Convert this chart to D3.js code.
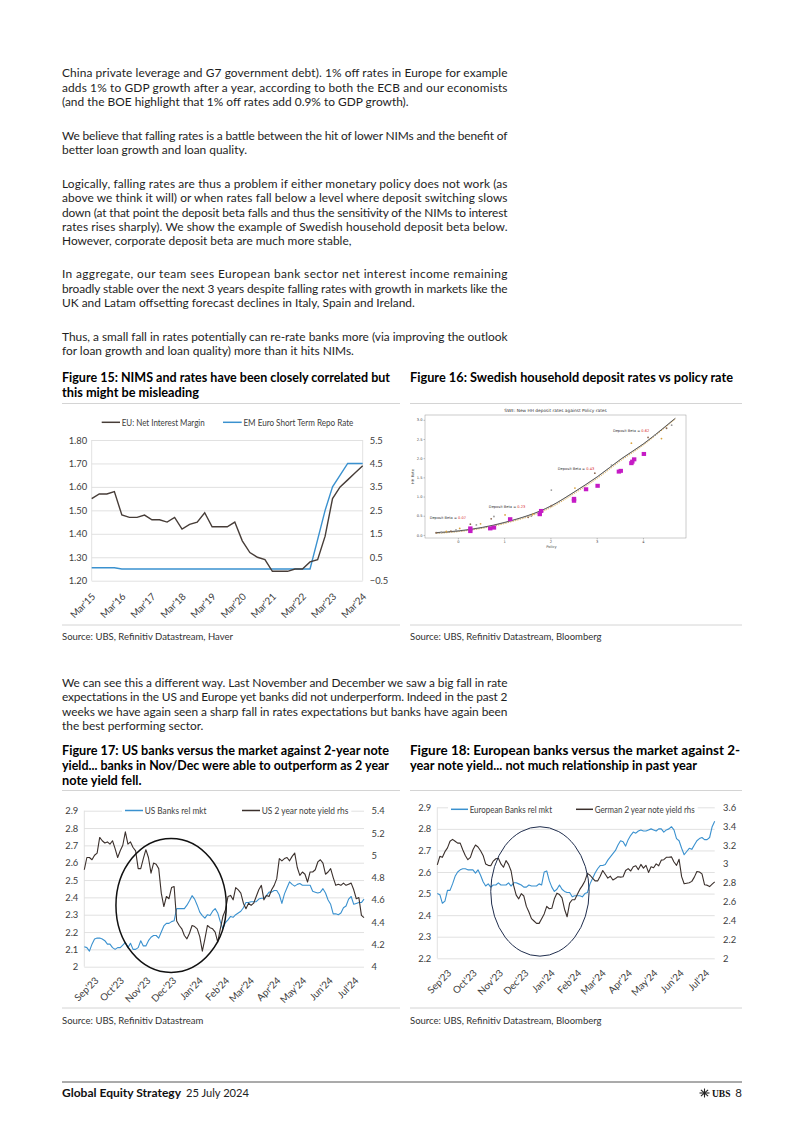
<!DOCTYPE html>
<html>
<head>
<meta charset="utf-8">
<script src="https://cdn.jsdelivr.net/npm/d3@7"></script>
<style>
html,body{margin:0;padding:0;background:#fff;}
svg{display:block;}
</style>
</head>
<body>
<svg id="page" width="802" height="1134"></svg>
<script>
// ================= TEXT =================
const para1 = ["China private leverage and G7 government debt). 1% off rates in Europe for example",
  "adds 1% to GDP growth after a year, according to both the ECB and our economists",
  "(and the BOE highlight that 1% off rates add 0.9% to GDP growth)."];
const para2 = ["We believe that falling rates is a battle between the hit of lower NIMs and the benefit of",
  "better loan growth and loan quality."];
const para3 = ["Logically, falling rates are thus a problem if either monetary policy does not work (as",
  "above we think it will) or when rates fall below a level where deposit switching slows",
  "down (at that point the deposit beta falls and thus the sensitivity of the NIMs to interest",
  "rates rises sharply). We show the example of Swedish household deposit beta below.",
  "However, corporate deposit beta are much more stable,"];
const para4 = ["In aggregate, our team sees European bank sector net interest income remaining",
  "broadly stable over the next 3 years despite falling rates with growth in markets like the",
  "UK and Latam offsetting forecast declines in Italy, Spain and Ireland."];
const para5 = ["Thus, a small fall in rates potentially can re-rate banks more (via improving the outlook",
  "for loan growth and loan quality) more than it hits NIMs."];
const para6 = ["We can see this a different way. Last November and December we saw a big fall in rate",
  "expectations in the US and Europe yet banks did not underperform. Indeed in the past 2",
  "weeks we have again seen a sharp fall in rates expectations but banks have again been",
  "the best performing sector."];
const title15 = ["Figure 15: NIMS and rates have been closely correlated but", "this might be misleading"];
const title16 = ["Figure 16: Swedish household deposit rates vs policy rate"];
const title17 = ["Figure 17: US banks versus the market against 2-year note",
  "yield... banks in Nov/Dec were able to outperform as 2 year", "note yield fell."];
const title18 = ["Figure 18: European banks versus the market against 2-",
  "year note yield... not much relationship in past year"];
const source15 = "Source: UBS, Refinitiv Datastream, Haver";
const source16 = "Source: UBS, Refinitiv Datastream, Bloomberg";
const source17 = "Source: UBS, Refinitiv Datastream";
const source18 = "Source: UBS, Refinitiv Datastream, Bloomberg";

// ================= FIGURE 15 =================
const nimQuarters = ["Mar'15","Jun'15","Sep'15","Dec'15","Mar'16","Jun'16","Sep'16","Dec'16",
  "Mar'17","Jun'17","Sep'17","Dec'17","Mar'18","Jun'18","Sep'18","Dec'18",
  "Mar'19","Jun'19","Sep'19","Dec'19","Mar'20","Jun'20","Sep'20","Dec'20",
  "Mar'21","Jun'21","Sep'21","Dec'21","Mar'22","Jun'22","Sep'22","Dec'22",
  "Mar'23","Jun'23","Sep'23","Dec'23","Mar'24"];
const nimValues = [1.55,1.57,1.57,1.58,1.48,1.47,1.47,1.48,1.46,1.46,1.45,1.47,1.42,1.44,1.45,1.49,
  1.43,1.43,1.43,1.45,1.37,1.32,1.30,1.29,1.24,1.24,1.24,1.25,1.25,1.28,1.29,1.39,
  1.55,1.60,1.63,1.66,1.69];
const repoValues = [0.05,0.05,0.05,0.05,0,0,0,0,0,0,0,0,0,0,0,0,
  0,0,0,0,0,0,0,0,0,0,0,0,0,0,1.25,2.5,
  3.5,4.0,4.5,4.5,4.5];
const nimTicks = [1.2,1.3,1.4,1.5,1.6,1.7,1.8];
const repoTicks = [-0.5,0.5,1.5,2.5,3.5,4.5,5.5];
const legend15 = ["EU: Net Interest Margin", "EM Euro Short Term Repo Rate"];

// ================= FIGURE 16 =================
const purplePolicy = [0.27,0.27,0.70,0.78,1.13,1.77,1.80,2.51,2.51,2.77,3.02,3.48,3.52,3.75,3.77,3.81,4.02];
const purpleRate   = [0.10,0.17,0.17,0.19,0.41,0.54,0.625,0.89,0.94,1.19,1.28,1.65,1.67,1.87,1.91,1.97,2.11];
const dotPolicy = [-0.47,-0.36,-0.25,-0.15,-0.04,0.04,0.27,0.40,0.49,0.72,0.78,1.02,1.52,1.59,1.62,2.02,2.02,2.53,2.96,3.32,3.75,4.11,4.26,4.40,4.51,4.62];
const dotRate   = [0.06,0.07,0.09,0.10,0.13,0.17,0.28,0.26,0.29,0.42,0.48,0.52,0.46,0.49,0.54,0.76,1.17,1.22,1.61,1.82,2.39,2.54,2.60,2.51,2.78,2.86];
const fitPolicy = [-0.47,0.04,1.02,2.02,2.53,3.02,3.54,4.02,4.48,4.70];
const fitRate   = [0.06,0.11,0.33,0.76,1.13,1.52,1.99,2.38,2.82,3.04];
const fitRate2  = [0.04,0.09,0.30,0.72,1.09,1.48,1.95,2.35,2.80,3.02];
const betaValues = ["0.07","0.23","0.43","0.62"];
const betaPolicy = [-0.61,0.67,2.16,3.35];
const betaRate   = [0.42,0.70,1.69,2.68];
const swePolicyTicks = [0,1,2,3,4];
const sweRateTicks = [0,0.5,1,1.5,2,2.5,3];
const sweTitle = "SWE: New HH deposit rates against Policy rates";

// ================= FIGURE 17 / 18 (sampled every 3 days from 1 Sep 2023) =================
const seriesStart = "2023-09-01";
const usBanks = [2.115,2.11,2.09,2.13,2.16,2.165,2.165,2.16,2.15,2.13,
 2.13,2.11,2.10,2.11,2.11,2.125,2.14,2.11,2.135,2.10,
 2.10,2.11,2.15,2.12,2.12,2.15,2.17,2.18,2.18,2.165,
 2.20,2.235,2.25,2.25,2.26,2.265,2.335,2.335,2.335,2.335,
 2.355,2.38,2.41,2.39,2.355,2.315,2.295,2.28,2.30,2.295,
 2.32,2.335,2.31,2.26,2.22,2.255,2.27,2.29,2.285,2.30,
 2.31,2.32,2.34,2.37,2.37,2.375,2.375,2.375,2.39,2.395,
 2.395,2.41,2.43,2.43,2.44,2.44,2.415,2.365,2.42,2.455,
 2.49,2.475,2.465,2.475,2.48,2.47,2.47,2.47,2.47,2.435,
 2.43,2.425,2.43,2.45,2.425,2.385,2.36,2.305,2.305,2.30,
 2.31,2.34,2.35,2.39,2.405,2.36,2.365,2.37,2.37,2.39];
const usYield = [4.87,4.98,4.98,4.96,5.00,5.02,5.16,5.13,5.11,5.12,
 5.10,5.13,5.06,4.98,5.04,5.09,5.21,5.10,5.12,5.07,
 5.04,4.88,4.88,4.97,5.05,4.98,4.84,4.93,4.92,4.88,
 4.66,4.54,4.63,4.61,4.71,4.72,4.41,4.37,4.34,4.28,
 4.25,4.30,4.37,4.36,4.34,4.27,4.14,4.25,4.37,4.35,
 4.34,4.31,4.22,4.34,4.45,4.51,4.63,4.64,4.60,4.71,
 4.69,4.66,4.57,4.52,4.57,4.55,4.57,4.63,4.69,4.73,
 4.60,4.64,4.63,4.69,4.73,4.79,4.97,4.95,4.97,4.98,
 4.95,4.99,5.02,4.89,4.82,4.85,4.83,4.76,4.85,4.85,
 4.87,4.94,4.96,4.93,4.83,4.85,4.88,4.80,4.73,4.74,
 4.73,4.75,4.73,4.74,4.75,4.69,4.61,4.62,4.46,4.44];
const euBanks = [2.50,2.495,2.455,2.465,2.515,2.515,2.545,2.58,2.60,2.61,
 2.615,2.615,2.61,2.61,2.61,2.595,2.61,2.585,2.555,2.535,
 2.545,2.53,2.54,2.54,2.55,2.54,2.54,2.54,2.55,2.535,
 2.55,2.55,2.545,2.54,2.53,2.53,2.54,2.535,2.535,2.535,
 2.545,2.54,2.60,2.605,2.56,2.53,2.51,2.52,2.54,2.52,
 2.51,2.505,2.505,2.485,2.49,2.49,2.49,2.485,2.50,2.505,
 2.545,2.57,2.595,2.615,2.63,2.63,2.635,2.655,2.67,2.685,
 2.70,2.725,2.745,2.74,2.72,2.75,2.77,2.785,2.78,2.79,
 2.795,2.79,2.79,2.795,2.80,2.795,2.79,2.80,2.80,2.785,
 2.795,2.80,2.81,2.795,2.755,2.745,2.71,2.68,2.695,2.71,
 2.705,2.725,2.745,2.755,2.76,2.75,2.75,2.76,2.81,2.835];
const deYield = [2.99,3.08,3.07,3.13,3.17,3.24,3.26,3.24,3.22,3.22,
 3.15,3.09,3.045,3.07,3.15,3.20,3.18,3.14,3.09,3.00,
 2.985,2.98,3.03,3.055,3.06,3.00,2.965,3.035,2.995,2.925,
 2.77,2.67,2.63,2.685,2.66,2.55,2.49,2.42,2.395,2.37,
 2.37,2.42,2.47,2.55,2.525,2.53,2.63,2.69,2.675,2.64,
 2.52,2.44,2.585,2.62,2.62,2.675,2.73,2.77,2.82,2.90,
 2.88,2.85,2.82,2.82,2.87,2.93,2.89,2.85,2.87,2.83,
 2.845,2.865,2.86,2.865,2.93,2.95,2.925,2.97,2.98,2.94,
 2.995,2.955,2.985,2.91,2.97,2.96,3.00,2.98,3.04,3.045,
 3.07,3.07,3.075,3.02,2.985,3.05,2.865,2.79,2.795,2.80,
 2.815,2.86,2.92,2.915,2.895,2.78,2.775,2.76,2.785,2.81];
const usBanksTicks = [2.0,2.1,2.2,2.3,2.4,2.5,2.6,2.7,2.8,2.9];
const usYieldTicks = [4.0,4.2,4.4,4.6,4.8,5.0,5.2,5.4];
const euBanksTicks = [2.2,2.3,2.4,2.5,2.6,2.7,2.8,2.9];
const deYieldTicks = [2.0,2.2,2.4,2.6,2.8,3.0,3.2,3.4,3.6];
const legend17 = ["US Banks rel mkt", "US 2 year note yield rhs"];
const legend18 = ["European Banks rel mkt", "German 2 year note yield rhs"];
// circled periods: [start date, end date, top value, bottom value] (left axis units)
const circle17 = ["2023-10-08", "2024-02-14", 2.74, 1.967];
const circle18 = ["2023-11-03", "2024-02-27", 2.81, 2.21];

// ================= RENDER =================
const svg = d3.select("#page");
const FONT = "Lato, 'Open Sans', 'DejaVu Sans', sans-serif";
const BLUE = "#3a91cf", DARK = "#3b302c", GRID = "#d9d9d9", AX = "#404040";

function natural(text, size, weight) {
  const t = svg.append("text").attr("font-family", FONT).attr("font-size", size)
    .attr("font-weight", weight || 400).text(text);
  const w = t.node().getComputedTextLength(); t.remove(); return w;
}
function putText(parent, text, x, y, o) {
  o = o || {};
  const t = parent.append("text").attr("x", x).attr("y", y)
    .attr("font-family", FONT).attr("font-size", o.size || 11)
    .attr("font-weight", o.weight || 400).attr("fill", o.fill || "#1a1a1a").text(text);
  if (o.anchor) t.attr("text-anchor", o.anchor);
  if (o.width) t.attr("textLength", o.width).attr("lengthAdjust", o.adjust || "spacing");
  return t;
}

// ---- body text ----
const bodySize = 12 * 347 / natural(para1[2], 12, 400);
function paragraph(lines, y0) {
  lines.forEach((l, i) => putText(svg, l, 62, y0 + i * 14.4,
    {size: bodySize, width: i < lines.length - 1 ? 445.5 : null, fill: "#1e1e1e"}));
}
paragraph(para1, 77.3);
paragraph(para2, 140);
paragraph(para3, 187.7);
paragraph(para4, 278.3);
paragraph(para5, 340.7);
paragraph(para6, 686.7);

// ---- titles ----
const titleSize = 12.3;
const titleK = 323 / natural(title16[0], titleSize, 700);
function title(lines, x, y0, justW) {
  lines.forEach((l, i) => {
    const w = (justW && i < lines.length - 1) ? justW : natural(l, titleSize, 700) * titleK;
    putText(svg, l, x, y0 + i * 15, {size: titleSize, weight: 700, width: w, adjust: "spacingAndGlyphs", fill: "#000"});
  });
}
title(title15, 62, 381.5, 328);
title(title16, 410, 381.5, null);
title(title17, 62, 754.5, 327);
title(title18, 410, 754.5, 330);

// ---- rules and sources ----
function rule(x1, x2, y, c, w) {
  svg.append("line").attr("x1", x1).attr("x2", x2).attr("y1", y).attr("y2", y)
    .attr("stroke", c || "#d4d4d4").attr("stroke-width", w || 1);
}
rule(62, 400, 403.5); rule(410, 742, 403.5);
rule(62, 400, 625); rule(410, 742, 625);
rule(62, 400, 790.5); rule(410, 742, 790.5);
rule(62, 400, 1008); rule(410, 742, 1008);
const srcSize = 8.6;
const srcK = 171 / natural(source15, srcSize, 400);
[[source15, 62, 639.5], [source16, 410, 639.5], [source17, 62, 1023.5], [source18, 410, 1023.5]]
  .forEach(([s, x, y]) => putText(svg, s, x, y, {size: srcSize, fill: "#333",
    width: natural(s, srcSize, 400) * srcK, adjust: "spacingAndGlyphs"}));

// ---- footer ----
rule(62, 742, 1082, "#444", 0.9);
putText(svg, "Global Equity Strategy", 62, 1097, {size: 11.5, weight: 700, fill: "#111",
  width: 119, adjust: "spacingAndGlyphs"});
putText(svg, "25 July 2024", 186, 1097, {size: 11.5, fill: "#222", width: 63, adjust: "spacingAndGlyphs"});
putText(svg, "UBS", 712, 1097, {size: 11, weight: 700, fill: "#111", width: 18.5, adjust: "spacingAndGlyphs"})
  .attr("font-family", "'Liberation Serif', 'DejaVu Serif', serif");
putText(svg, "8", 742, 1097, {size: 11.5, fill: "#222", anchor: "end"});
// key symbol
const key = svg.append("g").attr("transform", "translate(704.5,1093)").attr("stroke", "#222").attr("stroke-width", 1.1);
[[-5, 0, 5, 0], [0, -4.5, 0, 4.5], [-3.6, -3.2, 3.6, 3.2], [-3.6, 3.2, 3.6, -3.2]].forEach(p =>
  key.append("line").attr("x1", p[0]).attr("y1", p[1]).attr("x2", p[2]).attr("y2", p[3]));

// ---- generic helpers ----
function legendItem(g, x1, x2, y, color, text, tw) {
  g.append("line").attr("x1", x1).attr("x2", x2).attr("y1", y).attr("y2", y)
    .attr("stroke", color).attr("stroke-width", 1.5);
  putText(g, text, x2 + 1.7, y + 3.2, {size: 9, fill: "#404040", width: tw, adjust: "spacingAndGlyphs"});
}
function styleAxisText(g, size) {
  g.select(".domain").remove();
  g.selectAll(".tick line").remove();
  g.selectAll("text").attr("font-family", FONT).attr("font-size", size || 9).attr("fill", AX);
}
function grid(g, scale, ticks, x0, w) {
  const a = g.append("g").attr("transform", `translate(${x0},0)`)
    .call(d3.axisLeft(scale).tickValues(ticks).tickSize(-w).tickFormat(""));
  a.select(".domain").remove();
  a.selectAll(".tick line").attr("stroke", GRID).attr("stroke-width", 0.8);
}
function rotLabels(g, dx, dy) {
  g.select(".domain").remove();
  g.selectAll(".tick line").remove();
  g.selectAll(".tick text").attr("x", 0).attr("y", 0).attr("dy", "0.35em")
    .attr("text-anchor", "end").attr("font-family", FONT).attr("font-size", 9.8).attr("fill", AX)
    .attr("transform", `translate(${dx},${dy}) rotate(-45)`);
}

// ================= FIGURE 15 =================
(function () {
  const g = svg.append("g");
  const L = 91.7, R = 362.7, T = 440, B = 580.7;
  const parseQ = d3.timeParse("%b'%y");
  const dates = nimQuarters.map(parseQ);
  const x = d3.scaleTime().domain(d3.extent(dates)).range([L, R]);
  const yL = d3.scaleLinear().domain([1.2, 1.8]).range([B, T]);
  const yR = d3.scaleLinear().domain([-0.5, 5.5]).range([B, T]);
  grid(g, yL, nimTicks, L, R - L);
  [L, R].forEach(v => g.append("line").attr("x1", v).attr("x2", v).attr("y1", T).attr("y2", B)
    .attr("stroke", GRID).attr("stroke-width", 0.8));
  g.append("g").attr("transform", `translate(${L},0)`)
    .call(d3.axisLeft(yL).tickValues(nimTicks).tickFormat(d3.format(".2f")).tickSize(0).tickPadding(4.5))
    .call(a => styleAxisText(a, 9.4));
  g.append("g").attr("transform", `translate(${R},0)`)
    .call(d3.axisRight(yR).tickValues(repoTicks).tickFormat(d3.format(".1f")).tickSize(0).tickPadding(7))
    .call(a => styleAxisText(a, 9.4));
  g.append("g").attr("transform", `translate(0,${B})`)
    .call(d3.axisBottom(x).tickValues(dates.filter(d => d.getMonth() === 2)).tickFormat(d3.timeFormat("%b'%y")))
    .call(a => rotLabels(a, 1.5, 14));
  g.append("path").datum(repoValues).attr("fill", "none").attr("stroke", BLUE).attr("stroke-width", 1.4)
    .attr("d", d3.line().x((d, i) => x(dates[i])).y(d => yR(d)));
  g.append("path").datum(nimValues).attr("fill", "none").attr("stroke", "#473d38").attr("stroke-width", 1.4)
    .attr("d", d3.line().x((d, i) => x(dates[i])).y(d => yL(d)));
  legendItem(g, 101.7, 120, 422.3, "#473d38", legend15[0], 83);
  legendItem(g, 223, 241.7, 422.3, BLUE, legend15[1], 110);
})();

// ================= FIGURE 16 =================
(function () {
  const g = svg.append("g");
  const L = 425, R = 686, T = 415, B = 538;
  const x = d3.scaleLinear().domain([-0.71, 4.93]).range([L, R]);
  const y = d3.scaleLinear().domain([-0.08, 3.125]).range([B, T]);
  g.append("rect").attr("x", L).attr("y", T).attr("width", R - L).attr("height", B - T)
    .attr("fill", "none").attr("stroke", "#999").attr("stroke-width", 0.5);
  g.append("text").attr("x", (L + R) / 2).attr("y", 411.5).attr("text-anchor", "middle")
    .attr("font-family", "'DejaVu Sans', sans-serif").attr("font-size", 4.3).attr("fill", "#333").text(sweTitle);
  const ax = g.append("g").attr("transform", `translate(0,${B})`)
    .call(d3.axisBottom(x).tickValues(swePolicyTicks).tickFormat(d3.format("d")).tickSize(1.5).tickPadding(1));
  const ay = g.append("g").attr("transform", `translate(${L},0)`)
    .call(d3.axisLeft(y).tickValues(sweRateTicks).tickFormat(d3.format(".1f")).tickSize(1.5).tickPadding(1));
  [ax, ay].forEach(a => {
    a.select(".domain").remove();
    a.selectAll(".tick line").attr("stroke", "#666").attr("stroke-width", 0.4);
    a.selectAll("text").attr("font-family", "'DejaVu Sans', sans-serif").attr("font-size", 3.6).attr("fill", "#444");
  });
  g.append("text").attr("x", (L + R) / 2 - 4).attr("y", 548).attr("text-anchor", "middle")
    .attr("font-family", "'DejaVu Sans', sans-serif").attr("font-size", 3.6).attr("fill", "#444").text("Policy");
  g.append("text").attr("transform", `translate(414,${(T + B) / 2}) rotate(-90)`).attr("text-anchor", "middle")
    .attr("font-family", "'DejaVu Sans', sans-serif").attr("font-size", 3.6).attr("fill", "#444").text("HH Rate");
  const curve = d3.line().curve(d3.curveMonotoneX);
  g.append("path").attr("fill", "none").attr("stroke", "#d9a441").attr("stroke-width", 0.8)
    .attr("stroke-dasharray", "1.5,1")
    .attr("d", curve(fitPolicy.map((p, i) => [x(p), y(fitRate2[i])])));
  g.append("path").attr("fill", "none").attr("stroke", "#9a9a9a").attr("stroke-width", 0.6)
    .attr("d", curve(fitPolicy.map((p, i) => [x(p) - 1, y(fitRate[i]) + 0.6])));
  g.append("path").attr("fill", "none").attr("stroke", "#222").attr("stroke-width", 0.7)
    .attr("d", curve(fitPolicy.map((p, i) => [x(p), y(fitRate[i])])));
  const dotCols = ["#8c6a55", "#999", "#d9a441"];
  g.selectAll(".dot").data(dotPolicy).enter().append("circle")
    .attr("cx", (d) => x(d)).attr("cy", (d, i) => y(dotRate[i])).attr("r", 0.9)
    .attr("fill", (d, i) => dotCols[i % 3]);
  g.selectAll(".sq").data(purplePolicy).enter().append("rect")
    .attr("x", d => x(d) - 2.2).attr("y", (d, i) => y(purpleRate[i]) - 2).attr("width", 4.4).attr("height", 4)
    .attr("fill", "#c51bc5");
  betaValues.forEach((b, i) => {
    const t = g.append("text").attr("x", x(betaPolicy[i])).attr("y", y(betaRate[i]))
      .attr("font-family", "'DejaVu Sans', sans-serif").attr("font-size", 3.6).attr("fill", "#333");
    t.append("tspan").text("Deposit Beta = ");
    t.append("tspan").attr("fill", "#d62728").text(b);
  });
})();

// ================= FIGURE 17 / 18 =================
function dualChart(o) {
  const g = svg.append("g");
  const start = d3.timeParse("%Y-%m-%d")(seriesStart);
  const dates = o.left.map((d, i) => d3.timeDay.offset(start, 3 * i));
  const x = d3.scaleTime().domain(d3.extent(dates)).range([o.L, o.R]);
  const yL = d3.scaleLinear().domain(d3.extent(o.lTicks)).range([o.B, o.T]);
  const yR = d3.scaleLinear().domain(d3.extent(o.rTicks)).range([o.B, o.T]);
  grid(g, yL, o.lTicks, o.L, o.R - o.L);
  g.append("line").attr("x1", o.L).attr("x2", o.L).attr("y1", o.T).attr("y2", o.B)
    .attr("stroke", GRID).attr("stroke-width", 0.8);
  g.append("g").attr("transform", `translate(${o.L},0)`)
    .call(d3.axisLeft(yL).tickValues(o.lTicks).tickFormat(d3.format("~g")).tickSize(0).tickPadding(o.lPad))
    .call(a => styleAxisText(a, 9.4));
  g.append("g").attr("transform", `translate(${o.R},0)`)
    .call(d3.axisRight(yR).tickValues(o.rTicks).tickFormat(d3.format("~g")).tickSize(0).tickPadding(o.rPad))
    .call(a => styleAxisText(a, 9.4));
  const months = d3.timeMonth.range(new Date(2023, 8, 1), new Date(2024, 7, 1)).map(d => d3.timeDay.offset(d, 14));
  g.append("g").attr("transform", `translate(0,${o.B})`)
    .call(d3.axisBottom(x).tickValues(months).tickFormat(d3.timeFormat("%b'%y")))
    .call(a => rotLabels(a, 0, o.labDy));
  // legend backdrop
  g.append("rect").attr("x", o.leg[0] - 3).attr("y", o.T - 5).attr("width", o.leg[3] - o.leg[0] + 6).attr("height", 10)
    .attr("fill", "#fff");
  g.append("path").datum(o.left).attr("fill", "none").attr("stroke", BLUE).attr("stroke-width", 1.1)
    .attr("stroke-linejoin", "round")
    .attr("d", d3.line().x((d, i) => x(dates[i])).y(d => yL(d)));
  g.append("path").datum(o.right).attr("fill", "none").attr("stroke", DARK).attr("stroke-width", 1.1)
    .attr("stroke-linejoin", "round")
    .attr("d", d3.line().x((d, i) => x(dates[i])).y(d => yR(d)));
  const c = o.circle, p = d3.timeParse("%Y-%m-%d");
  const cx1 = x(p(c[0])), cx2 = x(p(c[1])), cy1 = yL(c[2]), cy2 = yL(c[3]);
  g.append("ellipse").attr("cx", (cx1 + cx2) / 2).attr("cy", (cy1 + cy2) / 2)
    .attr("rx", (cx2 - cx1) / 2).attr("ry", (cy2 - cy1) / 2)
    .attr("fill", "none").attr("stroke", o.circleColor).attr("stroke-width", o.circleW);
  legendItem(g, o.leg[0], o.leg[1], o.legY, BLUE, o.legend[0], o.legW[0]);
  legendItem(g, o.leg[2], o.leg[2] + (o.leg[1] - o.leg[0]), o.legY, DARK, o.legend[1], o.legW[1]);
}
dualChart({left: usBanks, right: usYield, lTicks: usBanksTicks, rTicks: usYieldTicks,
  L: 84.3, R: 364, T: 810.7, B: 966.7, lPad: 6, rPad: 7.5, labDy: 12,
  leg: [125, 143, 242, 348.3], legY: 810.5, legend: legend17, legW: [61.7, 86.7],
  circle: circle17, circleColor: "#111", circleW: 1.5});
dualChart({left: euBanks, right: deYield, lTicks: euBanksTicks, rTicks: deYieldTicks,
  L: 437.3, R: 714.7, T: 807.3, B: 958.3, lPad: 6, rPad: 8.3, labDy: 13,
  leg: [451, 468, 576, 694.7], legY: 809.3, legend: legend18, legW: [82.3, 100],
  circle: circle18, circleColor: "#1f2d4d", circleW: 1});
</script>
</body>
</html>
